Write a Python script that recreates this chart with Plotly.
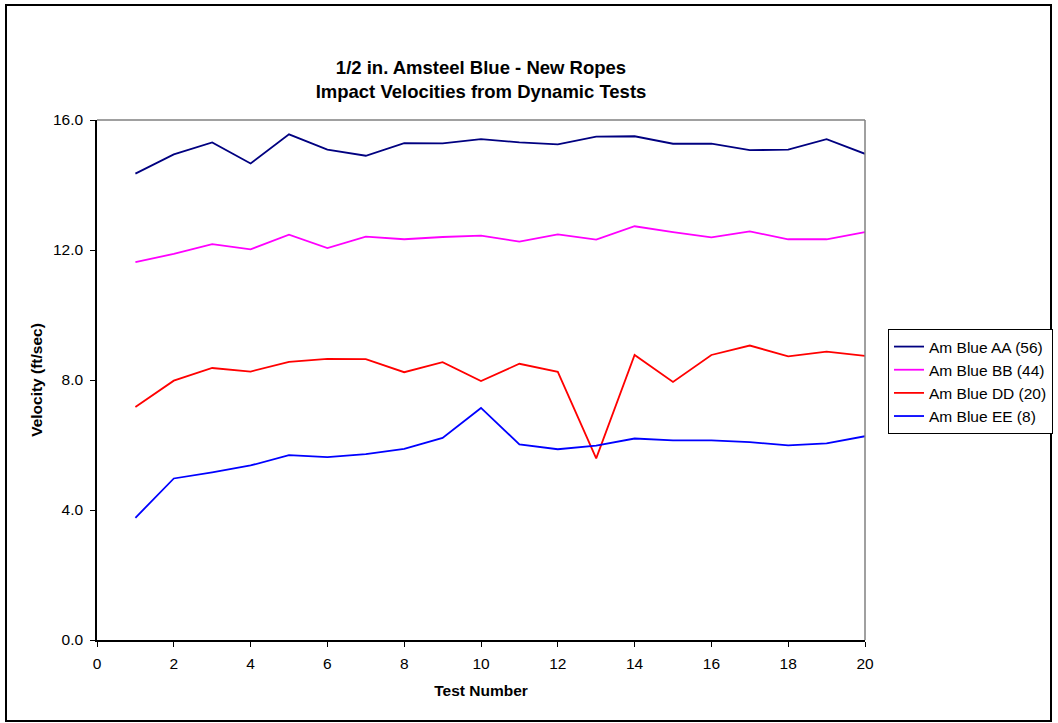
import plotly.graph_objects as go

test_number = list(range(1, 21))
am_blue_aa = [14.35, 14.94, 15.31, 14.66, 15.56, 15.09, 14.90, 15.29, 15.28, 15.41,
              15.31, 15.25, 15.49, 15.50, 15.27, 15.27, 15.07, 15.09, 15.41, 14.96]
am_blue_bb = [11.63, 11.88, 12.18, 12.02, 12.47, 12.06, 12.41, 12.33, 12.40, 12.44,
              12.26, 12.48, 12.32, 12.73, 12.55, 12.39, 12.57, 12.33, 12.33, 12.55]
am_blue_dd = [7.17, 7.98, 8.37, 8.26, 8.56, 8.65, 8.64, 8.24, 8.55, 7.97,
              8.50, 8.25, 5.59, 8.77, 7.94, 8.77, 9.06, 8.73, 8.87, 8.74]
am_blue_ee = [3.76, 4.97, 5.16, 5.37, 5.69, 5.63, 5.72, 5.88, 6.22, 7.14,
              6.02, 5.87, 5.98, 6.20, 6.14, 6.14, 6.09, 5.99, 6.05, 6.27]

series = [
    ("Am Blue AA (56)", am_blue_aa, "#000080"),
    ("Am Blue BB (44)", am_blue_bb, "#FF00FF"),
    ("Am Blue DD (20)", am_blue_dd, "#FF0000"),
    ("Am Blue EE (8)", am_blue_ee, "#0000FF"),
]

FONT = "Liberation Sans, Arial, sans-serif"
FS = 15.5

fig = go.Figure()
for name, vals, color in series:
    fig.add_trace(go.Scatter(x=test_number, y=vals, mode="lines", name=name,
                             line=dict(color=color, width=1.8)))

W, H = 1058, 723
L, R, T, B = 97, 193, 120, 83
pw, ph = W - L - R, H - T - B

fig.update_layout(
    width=W, height=H,
    margin=dict(l=L, r=R, t=T, b=B, autoexpand=False),
    paper_bgcolor="white", plot_bgcolor="white",
    font=dict(family=FONT, size=FS, color="black"),
    title=dict(text="<b>1/2 in. Amsteel Blue - New Ropes<br>Impact Velocities from Dynamic Tests</b>",
               x=0.5, xanchor="center", xref="paper", y=(H - 74) / H, yanchor="middle",
               font=dict(family=FONT, size=18.5, color="black")),
    showlegend=True,
    legend=dict(x=(888 - L) / pw, y=(640 - 329) / ph, xanchor="left", yanchor="top",
                bordercolor="black", borderwidth=1, bgcolor="white",
                font=dict(family=FONT, size=FS, color="black"),
                tracegroupgap=0),
    xaxis=dict(range=[0, 20], dtick=2, tick0=0, showgrid=False, zeroline=False,
               showline=True, linecolor="black", linewidth=1.5, mirror=False,
               ticks="outside", ticklen=5, tickcolor="black", ticklabelstandoff=4,
               title=dict(text="<b>Test Number</b>", font=dict(family=FONT, size=FS), standoff=14),
               tickfont=dict(family=FONT, size=FS)),
    yaxis=dict(range=[0, 16], dtick=4, tick0=0, tickformat=".1f", showgrid=False, zeroline=False,
               showline=True, linecolor="black", linewidth=1.5,
               ticks="outside", ticklen=5, tickcolor="black", ticklabelstandoff=4,
               title=dict(text="<b>Velocity (ft/sec)</b>", font=dict(family=FONT, size=FS), standoff=7),
               tickfont=dict(family=FONT, size=FS)),
)

# gray top/right border of plot area
fig.add_shape(type="line", xref="paper", yref="paper", x0=0, y0=1, x1=1, y1=1,
              line=dict(color="#808080", width=1.5))
fig.add_shape(type="line", xref="paper", yref="paper", x0=1, y0=0, x1=1, y1=1,
              line=dict(color="#808080", width=1.5))
# outer chart border
fig.add_shape(type="rect", xref="paper", yref="paper",
              x0=(6 - L) / pw, x1=(1051 - L) / pw,
              y0=(640 - 721) / ph, y1=(640 - 5) / ph,
              line=dict(color="black", width=2), layer="below")

fig.write_html("out.html")
